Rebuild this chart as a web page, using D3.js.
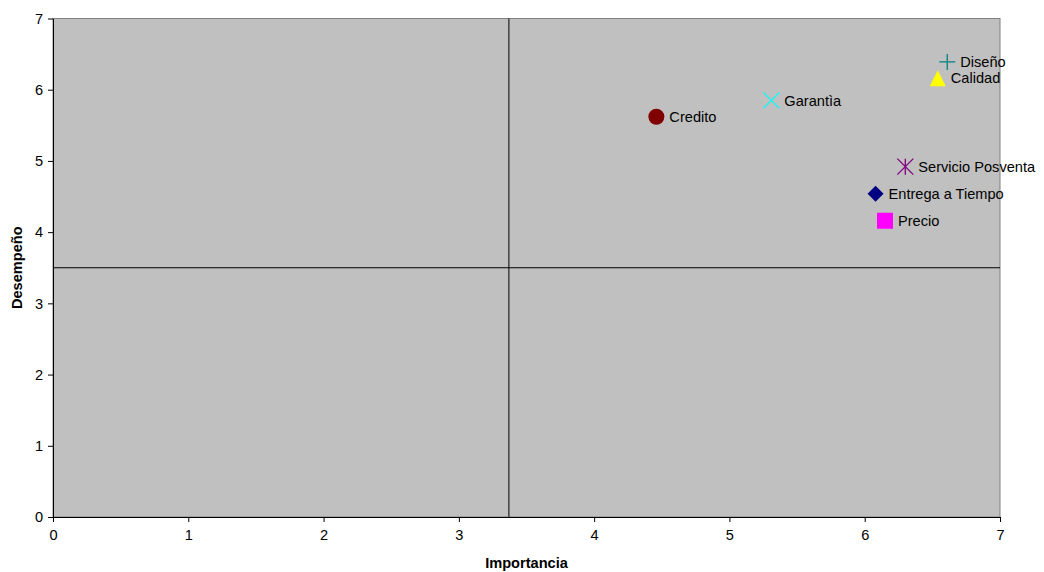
<!DOCTYPE html>
<html>
<head>
<meta charset="utf-8">
<script src="https://cdn.jsdelivr.net/npm/d3@7"></script>
<style>
  html, body { margin: 0; padding: 0; background: #fff; }
  svg { display: block; font-family: "Liberation Sans", Arial, sans-serif; }
</style>
</head>
<body>
<svg id="chart" width="1044" height="572"></svg>
<script>
// Attributes: importance (x) vs. performance (y)
const names       = ["Diseño", "Calidad", "Garantìa", "Credito", "Servicio Posventa", "Entrega a Tiempo", "Precio"];
const importancia = [6.61, 6.54, 5.31, 4.46, 6.30, 6.08, 6.15];
const desempeno   = [6.39, 6.16, 5.85, 5.62, 4.92, 4.54, 4.16];
const shapes      = ["plus", "triangle", "x", "circle", "asterisk", "diamond", "square"];
const colors      = ["#008080", "#FFFF00", "#00FFFF", "#800000", "#800080", "#000080", "#FF00FF"];

// Quadrant dividers
const vLineX = 3.37;
const hLineY = 3.5;

const xTicks = [0, 1, 2, 3, 4, 5, 6, 7];
const yTicks = [0, 1, 2, 3, 4, 5, 6, 7];

const fontSize = "14.6px";

const svg = d3.select("#chart");
const plotLeft = 53, plotRight = 1000, plotTop = 18.5, plotBottom = 517;

const x = d3.scaleLinear().domain([0, 7]).range([plotLeft, plotRight]);
const y = d3.scaleLinear().domain([0, 7]).range([plotBottom, plotTop]);

// Plot area
svg.append("rect")
  .attr("x", plotLeft).attr("y", plotTop)
  .attr("width", plotRight - plotLeft).attr("height", plotBottom - plotTop)
  .attr("fill", "#C0C0C0")
  .attr("stroke", "#808080").attr("stroke-width", 1);

// Quadrant lines
svg.append("line")
  .attr("x1", x(vLineX)).attr("x2", x(vLineX))
  .attr("y1", y(0)).attr("y2", y(7))
  .attr("stroke", "#000").attr("stroke-width", 1);
svg.append("line")
  .attr("x1", x(0)).attr("x2", x(7))
  .attr("y1", y(hLineY)).attr("y2", y(hLineY))
  .attr("stroke", "#000").attr("stroke-width", 1);

// Axes
const xAxis = d3.axisBottom(x).tickValues(xTicks).tickFormat(d3.format("d")).tickSizeInner(5).tickSizeOuter(0).tickPadding(8);
const yAxis = d3.axisLeft(y).tickValues(yTicks).tickFormat(d3.format("d")).tickSizeInner(5).tickSizeOuter(0).tickPadding(5);

const gx = svg.append("g").attr("transform", `translate(0,${plotBottom})`).call(xAxis);
const gy = svg.append("g").attr("transform", `translate(${plotLeft},0)`).call(yAxis);
[gx, gy].forEach(g => {
  g.select(".domain").attr("stroke", "#000");
  g.selectAll(".tick line").attr("stroke", "#000");
  g.selectAll(".tick text").attr("fill", "#000").style("font-size", fontSize).style("font-family", "Liberation Sans, Arial, sans-serif");
});

// Axis titles
svg.append("text")
  .attr("x", (plotLeft + plotRight) / 2).attr("y", 568)
  .attr("text-anchor", "middle")
  .style("font-size", fontSize).style("font-weight", "bold")
  .text("Importancia");
svg.append("text")
  .attr("transform", `translate(22,${(plotTop + plotBottom) / 2}) rotate(-90)`)
  .attr("text-anchor", "middle")
  .style("font-size", fontSize).style("font-weight", "bold")
  .text("Desempeño");

// Marker paths (about 16px across)
function markerPath(kind) {
  const h = 8;
  switch (kind) {
    case "plus": return `M${-h},0H${h}M0,${-h}V${h}`;
    case "x": return `M${-h},${-h}L${h},${h}M${-h},${h}L${h},${-h}`;
    case "asterisk": return `M${-h},${-h}L${h},${h}M${-h},${h}L${h},${-h}M0,${-h}V${h}`;
    case "triangle": return `M0,${-h}L${h},${h}L${-h},${h}Z`;
    case "diamond": return `M0,${-h}L${h},0L0,${h}L${-h},0Z`;
    case "square": return `M${-h},${-h}H${h}V${h}H${-h}Z`;
    case "circle": return d3.symbol(d3.symbolCircle, Math.PI * 64)();
  }
}
const lineShapes = new Set(["plus", "x", "asterisk"]);

const pts = svg.append("g").selectAll("g")
  .data(names.map((n, i) => ({ n, xv: importancia[i], yv: desempeno[i], s: shapes[i], c: colors[i] })))
  .join("g")
  .attr("transform", d => `translate(${x(d.xv)},${y(d.yv)})`);

pts.append("path")
  .attr("d", d => markerPath(d.s))
  .attr("fill", d => lineShapes.has(d.s) ? "none" : d.c)
  .attr("stroke", d => d.c)
  .attr("stroke-width", d => lineShapes.has(d.s) ? 1.3 : 0);

pts.append("text")
  .attr("x", 13).attr("y", 0).attr("dy", "0.35em")
  .style("font-size", fontSize).attr("fill", "#000")
  .text(d => d.n);
</script>
</body>
</html>
